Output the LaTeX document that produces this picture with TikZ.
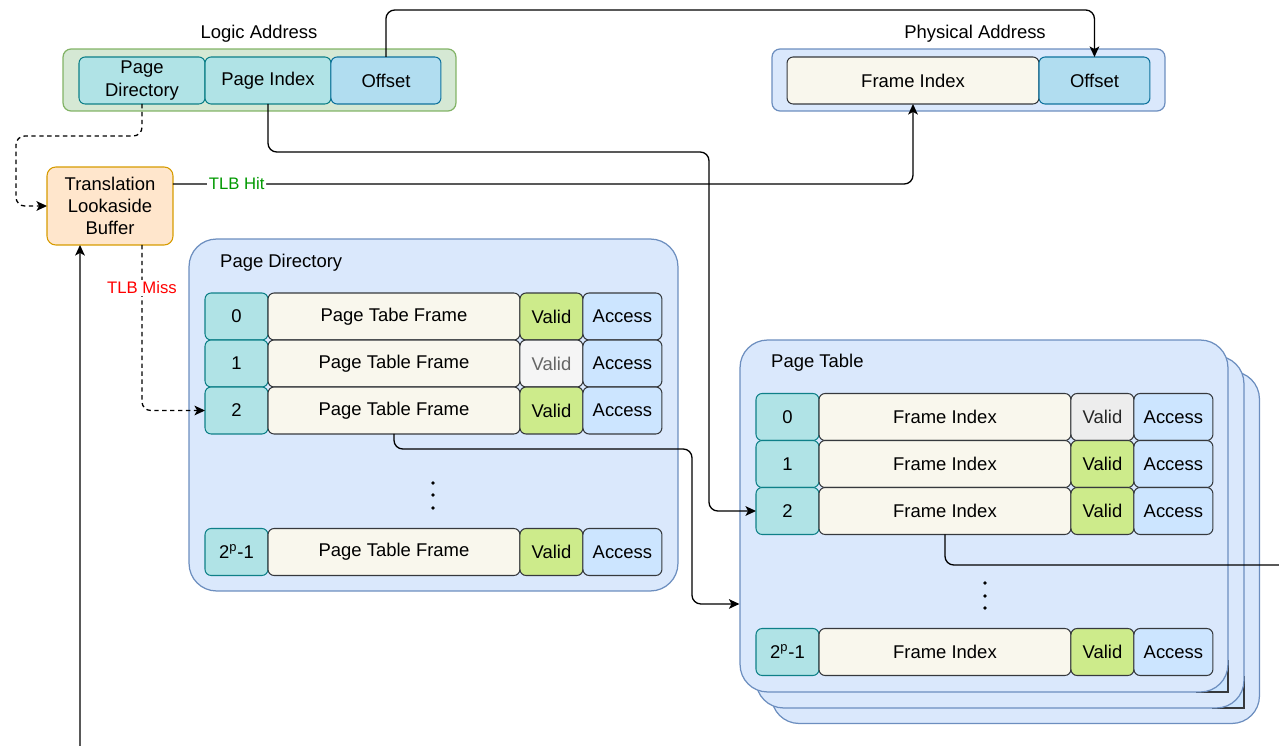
\documentclass[tikz,border=0pt]{standalone}
\usepackage{fontspec}
\setmainfont{Liberation Sans}
\usepackage{tikz}
\usetikzlibrary{positioning,arrows.meta}
\definecolor{laddrfill}{HTML}{D5E8D4}
\definecolor{laddrdraw}{HTML}{82B366}
\definecolor{panefill}{HTML}{DAE8FC}
\definecolor{panedraw}{HTML}{6C8EBF}
\definecolor{idxfill}{HTML}{B0E3E6}
\definecolor{idxdraw}{HTML}{0E8088}
\definecolor{offfill}{HTML}{B1DDF0}
\definecolor{offdraw}{HTML}{10739E}
\definecolor{frmfill}{HTML}{F9F7ED}
\definecolor{frmdraw}{HTML}{36393D}
\definecolor{vldfill}{HTML}{CDEB8B}
\definecolor{accfill}{HTML}{CCE5FF}
\definecolor{tlbfill}{HTML}{FFE6CC}
\definecolor{tlbdraw}{HTML}{D79B00}
\definecolor{hitgreen}{HTML}{009900}
\definecolor{missred}{HTML}{FF0000}
\tikzset{%
  cell/.style = {shape=rectangle, rounded corners=3.5pt, draw, outer sep=0pt,
    inner sep=1pt, minimum height=0.94cm, align=center, line width=0.6pt,
    font=\fontsize{10.5}{12.7}\selectfont},
  idx/.style = {cell, minimum width=1.26cm, fill=idxfill, draw=idxdraw},
  frm/.style = {cell, minimum width=5.04cm, fill=frmfill, draw=frmdraw},
  vld/.style = {cell, minimum width=1.26cm, fill=vldfill, draw=frmdraw},
  nvld/.style = {cell, minimum width=1.26cm, fill=black!4, draw=frmdraw, text=black!60},
  gvld/.style = {cell, minimum width=1.26cm, fill=black!7, draw=frmdraw, text=black!85},
  acc/.style = {cell, minimum width=1.58cm, fill=accfill, draw=frmdraw},
  off/.style = {cell, fill=offfill, draw=offdraw},
  pane/.style = {shape=rectangle, draw=panedraw, fill=panefill, line width=0.7pt,
    rounded corners=0.55cm, minimum width=9.76cm, minimum height=7.04cm},
  title/.style = {font=\fontsize{10.5}{12.7}\selectfont},
  link/.style = {draw, -{Stealth[length=6pt,width=5.5pt,inset=1.5pt]},
    rounded corners=5pt, line width=0.75pt},
  miss/.style = {link, dash pattern=on 2.5pt off 2pt},
  lbl/.style = {fill=white, inner sep=1pt, font=\fontsize{9.5}{11}\selectfont}
}
\begin{document}
\begin{tikzpicture}[x=0.02cm, y=-0.02cm]
  \useasboundingbox (0,0) rectangle (1279,746);

  % logic address
  \node[title] (ltitle) at (259,34) {Logic Address};
  \node[shape=rectangle, draw=laddrdraw, fill=laddrfill, line width=0.7pt,
    rounded corners=0.16cm, minimum width=7.86cm, minimum height=1.24cm] (laddr) at (259.5,80) {};
  \node[idx, minimum width=2.52cm] (la1) at (142,80.5) {Page\\Directory};
  \node[idx, minimum width=2.52cm, right=0pt of la1] (la2) {Page Index};
  \node[off, minimum width=2.2cm, right=0pt of la2] (la3) {Offset};

  % physical address
  \node[title] (ptitle) at (975,34) {Physical Address};
  \node[shape=rectangle, draw=panedraw, fill=panefill, line width=0.7pt,
    rounded corners=0.16cm, minimum width=7.86cm, minimum height=1.24cm] (paddr) at (968.5,80) {};
  \node[frm] (pa1) at (913,80.5) {Frame Index};
  \node[off, minimum width=2.22cm, right=0pt of pa1] (pa2) {Offset};

  % tlb
  \node[cell, fill=tlbfill, draw=tlbdraw, minimum width=2.52cm, minimum height=1.56cm,
    rounded corners=5pt] (tlb) at (110,206) {Translation\\Lookaside\\Buffer};

  % page directory
  \node[pane, minimum width=9.78cm] (pd) at (433.5,415) {};
  \node[title, anchor=west] (pdtitle) at (214,263) {Page Directory};
  \foreach \i/\y/\n/\f/\v in {0/316.5/0/Page Tabe Frame/vld,
      1/363.5/1/Page Table Frame/nvld,
      2/410.5/2/Page Table Frame/vld,
      3/552/2\textsuperscript{p}-1/Page Table Frame/vld} {
    \node[idx] (pdi\i) at (236.5,\y) {\n};
    \node[frm, right=0pt of pdi\i] (pdf\i) {\f};
    \node[\v, right=0pt of pdf\i] (pdv\i) {Valid};
    \node[acc, right=0pt of pdv\i] (pda\i) {Access};
  }
  \foreach \d in {483,495,508}
    \fill (433,\d) circle (1.1pt);

  % page tables, stacked
  \node[pane] (ptb) at (1015.5,547.5) {};
  \fill[accfill] (1212,708) rectangle (1244,676);
  \draw[frmdraw, line width=0.6pt] (1212,708) -- (1244,708) -- (1244,676);
  \node[pane] (ptm) at (1000,532) {};
  \fill[accfill] (1196,692) rectangle (1228,660);
  \draw[frmdraw, line width=0.6pt] (1196,692) -- (1228,692) -- (1228,660);
  \node[pane] (pt) at (984,516) {};
  \node[title, anchor=west] (pttitle) at (765,363) {Page Table};
  \foreach \i/\y/\n/\v in {0/417/0/gvld, 1/464/1/vld, 2/511/2/vld,
      3/652/2\textsuperscript{p}-1/vld} {
    \node[idx] (pti\i) at (787.5,\y) {\n};
    \node[frm, right=0pt of pti\i] (ptf\i) {Frame Index};
    \node[\v, right=0pt of ptf\i] (ptv\i) {Valid};
    \node[acc, right=0pt of ptv\i] (pta\i) {Access};
  }
  \foreach \d in {583,596,608}
    \fill (985,\d) circle (1.1pt);

  % connectors
  \coordinate (below) at (80,746);
  \coordinate (ptout) at (1279,565);
  \draw[link] (la3.north) -- ++(0,-47) -| (pa2.north);
  \draw[link] (la2.south) |- (709,152) |- (pti2.west);
  \draw[miss] (la1.south) |- (16,136) |- (tlb.west);
  \draw[link] ([yshift=0.44cm]tlb.east) -| (pa1.south)
    node[lbl, text=hitgreen, pos=0.043] {TLB Hit};
  \draw[miss] ([xshift=0.64cm]tlb.south) |- (pdi2.west)
    node[lbl, text=missred, pos=0.13] {TLB Miss};
  \draw[link] (pdf2.south) |- (692,449) |- ([yshift=-1.76cm]pt.west);
  \draw[line width=0.75pt, rounded corners=5pt] (ptf2.south) |- (ptout);
  \draw[link] (below) -- ([xshift=-0.6cm]tlb.south);
\end{tikzpicture}
\end{document}
